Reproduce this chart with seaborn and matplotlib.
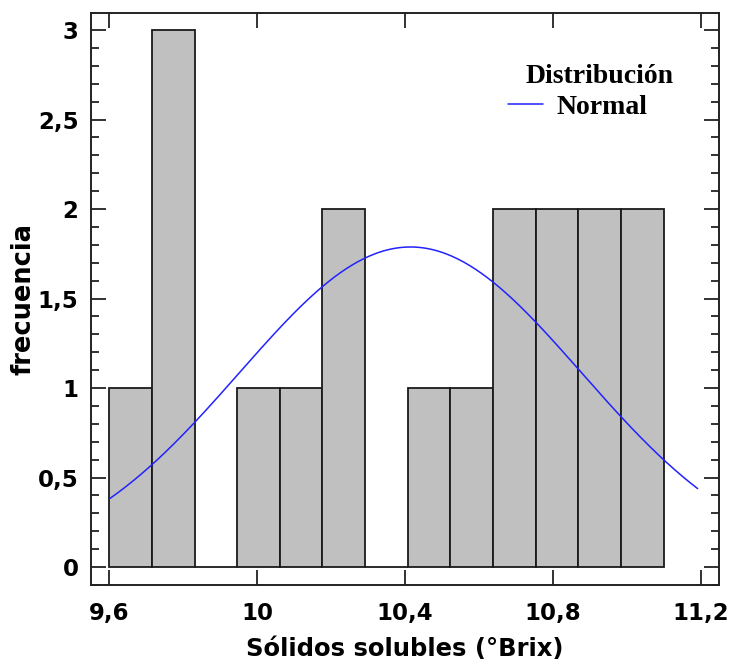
import numpy as np
import pandas as pd
import matplotlib
matplotlib.use("Agg")
import matplotlib.pyplot as plt
import seaborn as sns
from matplotlib.ticker import MultipleLocator, FuncFormatter

# Histogram of soluble solids (13 classes from 9.6 to 11.1 °Brix)
bin_start = 9.6
bin_stop = 11.1
n_bins = 13
counts = [1, 3, 0, 1, 1, 2, 0, 1, 1, 2, 2, 2, 2]

# Fitted normal distribution
norm_mean = 10.415
norm_sd = 0.4634
curve_range = [9.602, 11.192]

x_ticks = [9.6, 10.0, 10.4, 10.8, 11.2]
y_ticks = [0, 0.5, 1, 1.5, 2, 2.5, 3]

sns.set_style("ticks", {"text.color": "black", "axes.labelcolor": "black",
                        "xtick.color": "black", "ytick.color": "black"})
plt.rcParams["font.family"] = ["DejaVu Sans"]

edges = np.linspace(bin_start, bin_stop, n_bins + 1)
width = edges[1] - edges[0]
centers = (edges[:-1] + edges[1:]) / 2
df = pd.DataFrame({"brix": centers, "n": counts})

xs = np.linspace(curve_range[0], curve_range[1], 300)
ys = sum(counts) * width / (norm_sd * np.sqrt(2 * np.pi)) * np.exp(-0.5 * ((xs - norm_mean) / norm_sd) ** 2)
curve = pd.DataFrame({"x": xs, "y": ys})

fig = plt.figure(figsize=(7.33, 6.66), dpi=100)
ax = fig.add_axes([0.1241, 0.1216, 0.8564, 0.8589])

sns.histplot(data=df, x="brix", weights="n", bins=n_bins,
             binrange=(bin_start, bin_stop), ax=ax,
             color="#c0c0c0", alpha=1, edgecolor="#1a1a1a", linewidth=1.3)
sns.lineplot(data=curve, x="x", y="y", ax=ax, color="#2222ff", linewidth=1.1,
             label="Normal")

ax.set_xlim(9.5505, 11.249)
ax.set_ylim(-0.1, 3.095)
ax.set_xticks(x_ticks)
ax.set_yticks(y_ticks)
ax.yaxis.set_minor_locator(MultipleLocator(0.1))

comma = FuncFormatter(lambda v, p: ("%g" % round(v, 2)).replace(".", ","))
ax.xaxis.set_major_formatter(comma)
ax.yaxis.set_major_formatter(comma)

ax.tick_params(axis="both", which="major", direction="in", length=11, width=1.3,
               color="#222222", labelcolor="black", labelsize=16.5, top=True, right=True)
ax.tick_params(axis="y", which="major", pad=9)
ax.tick_params(axis="x", which="major", pad=12)
ax.tick_params(axis="y", which="minor", direction="in", length=6, width=1.3,
               color="#222222", right=True)
for lab in ax.get_xticklabels() + ax.get_yticklabels():
    lab.set_fontweight("bold")
for s in ax.spines.values():
    s.set_linewidth(1.4)
    s.set_color("#222222")

ax.set_xlabel("Sólidos solubles (°Brix)", fontsize=17.5, fontweight="bold",
              labelpad=9, color="black")
ax.set_ylabel("frecuencia", fontsize=18.5, fontweight="bold", labelpad=1, color="black")

serif = {"family": ["Liberation Serif"], "weight": "bold", "size": 20}
leg = ax.legend(loc="center left", bbox_to_anchor=(0.6643, 0.8357), frameon=False,
                borderpad=0, borderaxespad=0, handlelength=1.26, handletextpad=0.5,
                prop=serif, labelcolor="black")
ax.text(0.810, 0.8776, "Distribución", transform=ax.transAxes, ha="center",
        va="baseline", fontfamily=["Liberation Serif"], fontweight="bold", fontsize=20,
        color="black")

fig.savefig("out.png", dpi=100)
